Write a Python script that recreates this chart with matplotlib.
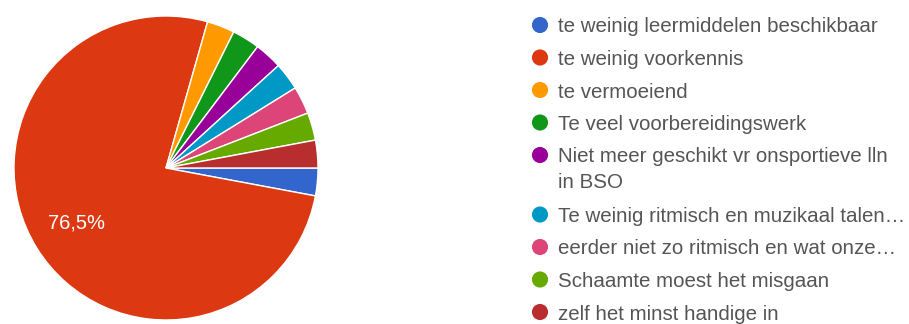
import matplotlib.pyplot as plt

# antwoorden per reden (aantal respondenten)
labels = ['te weinig leermiddelen beschikbaar',
          'te weinig voorkennis',
          'te vermoeiend',
          'Te veel voorbereidingswerk',
          'Niet meer geschikt vr onsportieve lln\nin BSO',
          'Te weinig ritmisch en muzikaal talen\u2026',
          'eerder niet zo ritmisch en wat onze\u2026',
          'Schaamte moest het misgaan',
          'zelf het minst handige in']
counts = [1, 26, 1, 1, 1, 1, 1, 1, 1]
colors = ['#3366cc', '#dc3912', '#ff9900', '#109618', '#990099',
          '#0099c6', '#dd4477', '#66aa00', '#b82e2e']


def pct_label(p):
    # alleen de grote taartpunt krijgt een percentage
    if p < 10:
        return ''
    return ('%.1f%%' % p).replace('.', ',')


def run():
    plt.rcParams['font.family'] = ['Liberation Sans', 'DejaVu Sans']
    W, H = 909, 324
    fig = plt.figure(figsize=(W / 100, H / 100), dpi=100)

    # taart: middelpunt (166, 168) px, straal 152 px
    cx, cy, r = 166, 168, 152
    ax = fig.add_axes([(cx - r) / W, (H - cy - r) / H, 2 * r / W, 2 * r / H])
    wedges, texts, autotexts = ax.pie(counts, colors=colors, startangle=0, counterclock=False,
                                      autopct=pct_label, pctdistance=0.69,
                                      wedgeprops={'edgecolor': 'white', 'linewidth': 1})
    for t in autotexts:
        t.set_color('white')
        t.set_fontsize(14.5)
    ax.set_xlim(-1, 1)
    ax.set_ylim(-1, 1)

    # legenda met gekleurde bolletjes
    lg = fig.add_axes([0, 0, 1, 1])
    lg.set_xlim(0, W)
    lg.set_ylim(H, 0)
    lg.axis('off')
    y = 25
    for lab, col in zip(labels, colors):
        lg.scatter([540], [y], s=135, color=col, edgecolors='none')
        lines = lab.split('\n')
        for k, line in enumerate(lines):
            lg.text(558, y + k * 26, line, fontsize=14.8, color='#555555', va='center_baseline', ha='left')
        y += 32.5 + 27 * (len(lines) - 1)

    fig.savefig('out.png', dpi=100)


if __name__ == '__main__':
    run()
